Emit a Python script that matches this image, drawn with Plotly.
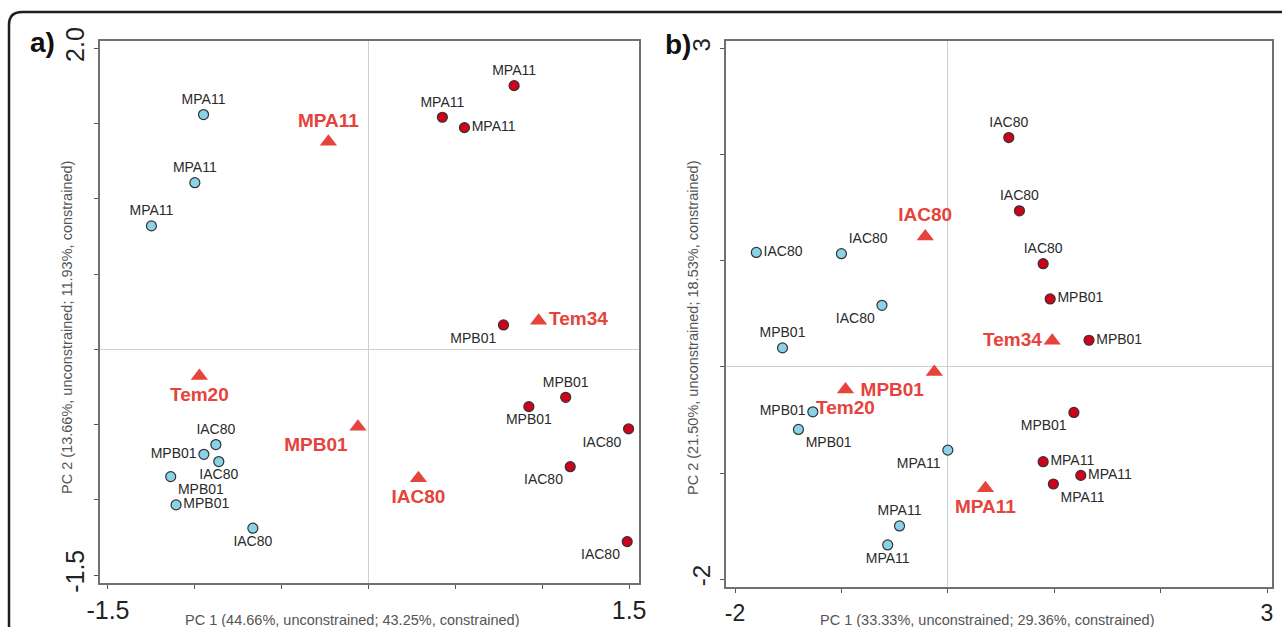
import plotly.graph_objects as go

W, H = 1282, 627

# ---- Panel a: sample scores (Tem20 = blue, Tem34 = red) and factor centroids ----
a_blue_x = [-0.95, -1.00, -1.25, -0.879, -0.948, -0.862, -1.139, -1.108, -0.666]
a_blue_y = [1.56, 1.107, 0.82, -0.633, -0.698, -0.746, -0.846, -1.034, -1.189]
a_blue_lab = ["MPA11", "MPA11", "MPA11", "IAC80", "MPB01", "IAC80", "MPB01", "MPB01", "IAC80"]

a_red_x = [0.838, 0.425, 0.552, 0.777, 1.135, 0.923, 1.497, 1.161, 1.489]
a_red_y = [1.752, 1.542, 1.473, 0.162, -0.319, -0.381, -0.529, -0.78, -1.278]
a_red_lab = ["MPA11", "MPA11", "MPA11", "MPB01", "MPB01", "MPB01", "IAC80", "IAC80", "IAC80"]

a_cen_x = [-0.231, 0.979, -0.974, -0.061, 0.287]
a_cen_y = [1.38, 0.19, -0.177, -0.514, -0.857]
a_cen_lab = ["MPA11", "Tem34", "Tem20", "MPB01", "IAC80"]

# ---- Panel b ----
b_blue_x = [-1.80, -1.00, -0.619, -1.554, -1.269, -1.404, 0.0, -0.454, -0.565]
b_blue_y = [1.078, 1.066, 0.58, 0.179, -0.423, -0.589, -0.784, -1.498, -1.677]
b_blue_lab = ["IAC80", "IAC80", "IAC80", "MPB01", "MPB01", "MPB01", "MPA11", "MPA11", "MPA11"]

b_red_x = [0.573, 0.673, 0.896, 0.962, 1.327, 1.185, 0.896, 1.25, 0.992]
b_red_y = [2.16, 1.47, 0.972, 0.64, 0.251, -0.429, -0.893, -1.022, -1.103]
b_red_lab = ["IAC80", "IAC80", "IAC80", "MPB01", "MPB01", "MPB01", "MPA11", "MPA11", "MPA11"]

b_cen_x = [-0.212, 0.981, -0.127, -0.962, 0.354]
b_cen_y = [1.229, 0.245, -0.047, -0.213, -1.144]
b_cen_lab = ["IAC80", "Tem34", "MPB01", "Tem20", "MPA11"]

# axis titles
a_xtitle = "PC 1 (44.66%, unconstrained; 43.25%, constrained)"
a_ytitle = "PC 2 (13.66%, unconstrained; 11.93%, constrained)"
b_xtitle = "PC 1 (33.33%, unconstrained; 29.36%, constrained)"
b_ytitle = "PC 2 (21.50%, unconstrained; 18.53%, constrained)"

# tick values / labels
a_xticks = [-1.5, -1.0, -0.5, 0.0, 0.5, 1.0, 1.5]
a_xtext = ["-1.5", "", "", "", "", "", "1.5"]
a_yticks = [-1.5, -1.0, -0.5, 0.0, 0.5, 1.0, 1.5, 2.0]
a_ytext = ["-1.5", "", "", "", "", "", "", "2.0"]
b_xticks = [-2, -1, 0, 1, 2, 3]
b_xtext = ["-2", "", "", "", "", "3"]
b_yticks = [-2, -1, 0, 1, 2, 3]
b_ytext = ["-2", "", "", "", "", "3"]

# label placement (style)
a_blue_pos = ["top center", "top center", "top center", "top center", "middle left",
              "bottom center", "bottom right", "middle right", "bottom center"]
a_red_pos = ["top center", "top center", "middle right", "bottom left", "top center",
             "bottom center", "bottom left", "bottom left", "bottom left"]
a_cen_pos = ["top center", "middle right", "bottom center", "bottom left", "bottom center"]
b_blue_pos = ["middle right", "top right", "bottom left", "top center", "middle left",
              "bottom right", "bottom left", "top center", "bottom center"]
b_red_pos = ["top center", "top center", "top center", "middle right", "middle right",
             "bottom left", "middle right", "middle right", "bottom right"]
b_cen_pos = ["top center", "middle left", "bottom left", "bottom center", "bottom center"]

FONT = "Liberation Sans, Arial, sans-serif"
BLUE = "#8ad2e6"
RED = "#d0021b"
TRI = "#e5433b"
EDGE = "#333333"
LABEL = "#2a2a2a"

fig = go.Figure()


def add_panel(xa, ya, bx, by, bl, bp, rx, ry, rl, rp, cx, cy, cl, cp):
    fig.add_trace(go.Scatter(
        x=bx, y=by, text=bl, textposition=bp, mode="markers+text",
        marker=dict(size=10, color=BLUE, line=dict(color=EDGE, width=1.2)),
        textfont=dict(family=FONT, size=14, color=LABEL),
        xaxis=xa, yaxis=ya, showlegend=False, cliponaxis=False))
    fig.add_trace(go.Scatter(
        x=rx, y=ry, text=rl, textposition=rp, mode="markers+text",
        marker=dict(size=10, color=RED, line=dict(color=EDGE, width=1.2)),
        textfont=dict(family=FONT, size=14, color=LABEL),
        xaxis=xa, yaxis=ya, showlegend=False, cliponaxis=False))
    fig.add_trace(go.Scatter(
        x=cx, y=cy, text=cl, textposition=cp, mode="markers+text",
        marker=dict(symbol="triangle-up", size=15, color=TRI, line=dict(width=0)),
        textfont=dict(family=FONT, size=19, color=TRI, weight="bold"),
        xaxis=xa, yaxis=ya, showlegend=False, cliponaxis=False))


add_panel("x", "y", a_blue_x, a_blue_y, a_blue_lab, a_blue_pos,
          a_red_x, a_red_y, a_red_lab, a_red_pos, a_cen_x, a_cen_y, a_cen_lab, a_cen_pos)
add_panel("x2", "y2", b_blue_x, b_blue_y, b_blue_lab, b_blue_pos,
          b_red_x, b_red_y, b_red_lab, b_red_pos, b_cen_x, b_cen_y, b_cen_lab, b_cen_pos)


def px(x):
    return x / W


def py(y):
    return 1 - y / H


def axis(domain, rng, tickvals, ticktext, angle=0, anchor=None, fsize=25):
    return dict(
        domain=domain, range=rng, anchor=anchor, automargin=False,
        showgrid=False, zeroline=True, zerolinecolor="#cfcfcf", zerolinewidth=1,
        showline=True, mirror=True, linecolor="#707070", linewidth=2,
        ticks="outside", ticklen=4, tickwidth=1, tickcolor="#555555",
        tickvals=tickvals, ticktext=ticktext, tickangle=angle,
        tickfont=dict(family=FONT, size=fsize, color="#222222"),
        fixedrange=True,
    )


fig.update_layout(
    template="none",
    width=W, height=H,
    margin=dict(l=0, r=0, t=0, b=0, pad=0, autoexpand=False),
    paper_bgcolor="white", plot_bgcolor="white",
    xaxis=axis([px(100), px(639)], [-1.546, 1.557], a_xticks, a_xtext, 0, "y", 25),
    yaxis=axis([py(583), py(40.5)], [-1.553, 2.052], a_yticks, a_ytext, -90, "x", 25),
    xaxis2=axis([px(726), px(1272)], [-2.085, 3.047], b_xticks, b_xtext, 0, "y2", 23),
    yaxis2=axis([py(587), py(40.7)], [-2.073, 3.072], b_yticks, b_ytext, -90, "x2", 24),
)

title_font = dict(family=FONT, size=14.5, color="#555555")
notes = [
    (352, 620, a_xtitle, 0),
    (67, 328, a_ytitle, -90),
    (987, 620, b_xtitle, 0),
    (693, 328, b_ytitle, -90),
]
for x, y, t, ang in notes:
    fig.add_annotation(x=px(x), y=py(y), xref="paper", yref="paper", text=t,
                       showarrow=False, textangle=ang, font=title_font,
                       xanchor="center", yanchor="middle")

for x, y, t in [(42, 43, "a)"), (678, 44, "b)")]:
    fig.add_annotation(x=px(x), y=py(y), xref="paper", yref="paper", text=t,
                       showarrow=False, font=dict(family=FONT, size=28, color="#111111", weight="bold"),
                       xanchor="center", yanchor="middle")

# rounded outer frame (top-left corner visible)
path = (f"M {px(9)},{py(700)} L {px(9)},{py(25)} "
        f"Q {px(9)},{py(12)} {px(22)},{py(12)} L {px(1300)},{py(12)}")
fig.add_shape(type="path", path=path, xref="paper", yref="paper",
              line=dict(color="#1e1e1e", width=2.5))

fig.write_html("out.html")
